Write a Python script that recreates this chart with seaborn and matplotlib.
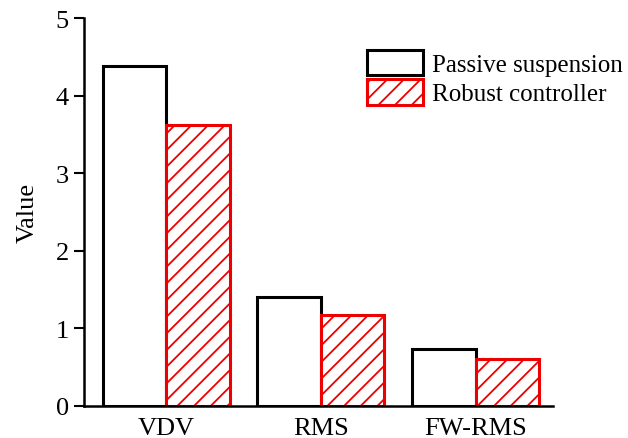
import matplotlib
matplotlib.use("Agg")
import matplotlib.pyplot as plt
import seaborn as sns
import pandas as pd

metrics = ["VDV", "RMS", "FW-RMS"]
series_names = ["Passive suspension", "Robust controller"]
passive_vals = [4.38, 1.41, 0.73]
robust_vals = [3.62, 1.17, 0.61]
y_ticks = [0, 1, 2, 3, 4, 5]

df = pd.DataFrame({
    "metric": metrics * 2,
    "value": passive_vals + robust_vals,
    "type": [series_names[0]] * 3 + [series_names[1]] * 3,
})

sns.set_style("ticks")
plt.rcParams["font.family"] = ["Liberation Serif", "DejaVu Serif"]
plt.rcParams["hatch.linewidth"] = 1.3
plt.rcParams["text.color"] = "black"
plt.rcParams["axes.labelcolor"] = "black"
plt.rcParams["xtick.color"] = "black"
plt.rcParams["ytick.color"] = "black"
plt.rcParams["axes.edgecolor"] = "black"

fig = plt.figure(figsize=(6.28, 4.39), dpi=100)
ax = fig.add_axes([0.1338, 0.0729, 0.7468, 0.8838])

sns.barplot(data=df, x="metric", y="value", hue="type", order=metrics,
            hue_order=series_names, palette=["white", "white"], width=0.82,
            saturation=1, linewidth=2.2, ax=ax, legend=False)

edge_colors = ["black", "#ee0000"]
hatches = [None, "//"]
for cont, ec, h in zip(ax.containers, edge_colors, hatches):
    for p in cont.patches:
        p.set_edgecolor(ec)
        p.set_facecolor("white")
        p.set_linewidth(2.2)
        if h:
            p.set_hatch(h)

ax.set_ylim(0, 5)
ax.set_xlim(-0.53, 2.5)
ax.set_yticks(y_ticks)
ax.set_yticklabels([str(t) for t in y_ticks])
ax.set_xlabel("")
ax.set_ylabel("Value", fontsize=19, labelpad=12, color="black")
sns.despine(ax=ax)
for s in ["left", "bottom"]:
    ax.spines[s].set_linewidth(1.8)
    ax.spines[s].set_color("black")
ax.tick_params(axis="y", length=7, width=1.5, labelsize=19, pad=4,
               colors="black")
ax.tick_params(axis="x", length=0, labelsize=19, pad=8, colors="black")

ax.legend(handles=list(ax.containers), labels=series_names, frameon=False,
          loc="upper left", bbox_to_anchor=(0.603, 0.918), fontsize=18,
          handlelength=2.25, handleheight=1.2, handletextpad=0.35,
          labelspacing=0.12, borderaxespad=0, borderpad=0)

fig.savefig("out.png", dpi=100)
